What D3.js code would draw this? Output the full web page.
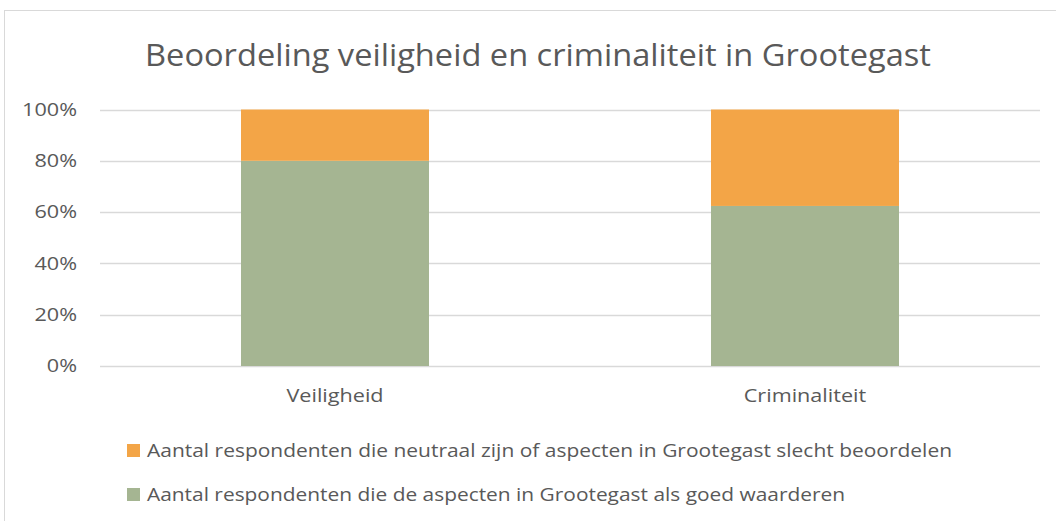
<!DOCTYPE html>
<html>
<head>
<meta charset="utf-8">
<script src="https://cdn.jsdelivr.net/npm/d3@7"></script>
<style>
  body { margin: 0; background: #fff; }
  text { font-family: "Open Sans", "Noto Sans", sans-serif; fill: #595959; }
</style>
</head>
<body>
<script>
// chart data
var categories = ['Veiligheid', 'Criminaliteit'];
var goed = [0.80, 0.624];
var slecht = [0.20, 0.376];
var seriesNames = [
	'Aantal respondenten die neutraal zijn of aspecten in Grootegast slecht beoordelen',
	'Aantal respondenten die de aspecten in Grootegast als goed waarderen'
];
var ticks = [0, 0.2, 0.4, 0.6, 0.8, 1];

var width = 1056, height = 521,
	green = '#a5b592',
	orange = '#f3a547',
	grid = '#d9d9d9';

var svg = d3.select('body').append('svg')
	.attr('width', width)
	.attr('height', height);

// chart frame
svg.append('rect')
	.attr('x', 4.5).attr('y', 10.5)
	.attr('width', 1070).attr('height', 530)
	.attr('fill', 'none')
	.attr('stroke', grid);

// title
svg.append('text')
	.text('Beoordeling veiligheid en criminaliteit in Grootegast')
	.attr('x', 538)
	.attr('y', 66)
	.attr('text-anchor', 'middle')
	.attr('font-size', 31)
	.attr('textLength', 786)
	.attr('lengthAdjust', 'spacingAndGlyphs');

var x = d3.scaleBand()
	.domain(categories)
	.range([100, 1040])
	.paddingInner(0.6)
	.paddingOuter(0.3);

var y = d3.scaleLinear()
	.domain([0, 1])
	.range([366, 109.5]);

// stretch labels a bit, the original font is narrower and taller
function widen(sel) {
	sel.attr('font-size', 18)
		.attr('font-family', '"Open Sans", sans-serif')
		.attr('fill', '#595959')
		.each(function() {
			d3.select(this)
				.attr('textLength', this.getComputedTextLength() * 1.2)
				.attr('lengthAdjust', 'spacingAndGlyphs');
		});
}

// gridlines
svg.append('g')
	.selectAll('line')
	.data(ticks)
	.enter().append('line')
	.attr('x1', 100).attr('x2', 1040)
	.attr('y1', function(d) { return Math.round(y(d)) + 0.5; })
	.attr('y2', function(d) { return Math.round(y(d)) + 0.5; })
	.attr('stroke', grid)
	.attr('stroke-width', 1.3);

// y axis labels
var yAxis = svg.append('g')
	.attr('transform', 'translate(77,0)')
	.call(d3.axisLeft(y).tickValues(ticks).tickFormat(d3.format('.0%')).tickSize(0).tickPadding(0));
yAxis.select('.domain').remove();
widen(yAxis.selectAll('text'));

// bars - goed (bottom)
svg.append('g')
	.selectAll('rect')
	.data(categories)
	.enter().append('rect')
	.attr('x', function(d) { return x(d); })
	.attr('width', x.bandwidth())
	.attr('y', function(d, i) { return y(goed[i]); })
	.attr('height', function(d, i) { return y(0) - y(goed[i]); })
	.attr('fill', green);

// bars - slecht (top)
svg.append('g')
	.selectAll('rect')
	.data(categories)
	.enter().append('rect')
	.attr('x', function(d) { return x(d); })
	.attr('width', x.bandwidth())
	.attr('y', function(d, i) { return y(goed[i] + slecht[i]); })
	.attr('height', function(d, i) { return y(goed[i]) - y(goed[i] + slecht[i]); })
	.attr('fill', orange);

// category labels
var xAxis = svg.append('g')
	.attr('transform', 'translate(0,366)')
	.call(d3.axisBottom(x).tickSize(0).tickPadding(23));
xAxis.select('.domain').remove();
widen(xAxis.selectAll('text'));

// legend
var legendColors = [orange, green];
var legendWidths = [805, 698];
var legend = svg.append('g')
	.selectAll('g')
	.data(seriesNames)
	.enter().append('g')
	.attr('transform', function(d, i) { return 'translate(127,' + (444 + i * 44) + ')'; });
legend.append('rect')
	.attr('width', 13).attr('height', 13)
	.attr('fill', function(d, i) { return legendColors[i]; });
legend.append('text')
	.text(function(d) { return d; })
	.attr('x', 20)
	.attr('y', 13)
	.attr('font-size', 19)
	.attr('textLength', function(d, i) { return legendWidths[i]; })
	.attr('lengthAdjust', 'spacingAndGlyphs');
</script>
</body>
</html>
